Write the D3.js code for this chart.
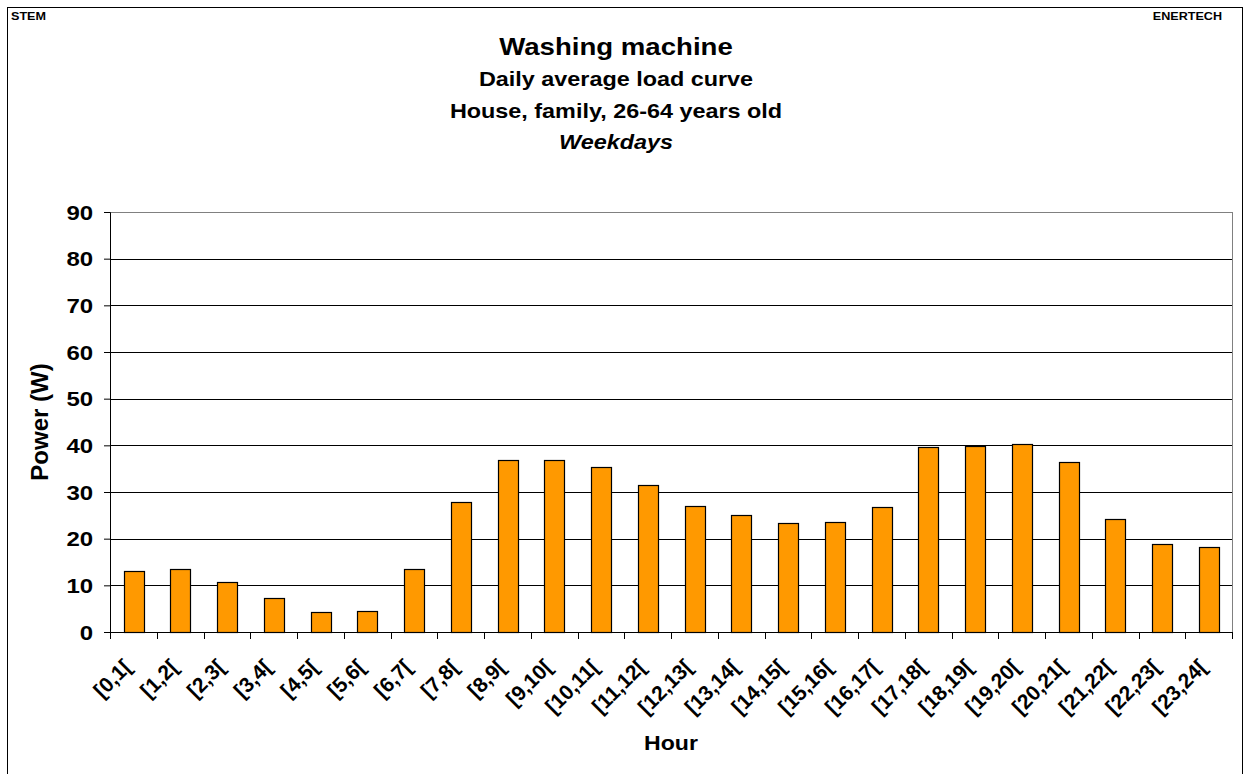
<!DOCTYPE html>
<html>
<head>
<meta charset="utf-8">
<script src="https://cdn.jsdelivr.net/npm/d3@7"></script>
<style>
	body { margin: 0; background: #fff; }
	text { font-family: "Liberation Sans", Arial, sans-serif; font-weight: bold; fill: #000; }
</style>
</head>
<body>
<div id="graphic"></div>
<script>
// chart data
const hours = ['[0,1[', '[1,2[', '[2,3[', '[3,4[', '[4,5[', '[5,6[', '[6,7[', '[7,8[', '[8,9[', '[9,10[', '[10,11[', '[11,12[',
	'[12,13[', '[13,14[', '[14,15[', '[15,16[', '[16,17[', '[17,18[', '[18,19[', '[19,20[', '[20,21[', '[21,22[', '[22,23[', '[23,24['];
const power = [13.0, 13.6, 10.7, 7.2, 4.2, 4.6, 13.4, 27.8, 36.9, 36.9, 35.4, 31.5,
	26.9, 25.0, 23.3, 23.6, 26.7, 39.6, 39.9, 40.2, 36.5, 24.3, 18.9, 18.3];
const yTicks = [0, 10, 20, 30, 40, 50, 60, 70, 80, 90];
const titleLines = ['Daily average load curve', 'House, family, 26-64 years old'];

const width = 1247, height = 774;
const margin = { top: 212, right: 15, bottom: 142, left: 110 };
const chart_width = width - margin.left - margin.right;
const chart_height = height - margin.top - margin.bottom;
const sx = 1.2; // the source text is a little wider than Arial

const svg = d3.select('#graphic')
	.append('svg')
	.attr('width', width)
	.attr('height', height);

// outer frame
svg.append('rect')
	.attr('x', 7.5).attr('y', 7.5)
	.attr('width', 1235).attr('height', 780)
	.attr('fill', 'none')
	.attr('stroke', '#000');

function label(x, y, txt, size, anchor, stretch) {
	return svg.append('text')
		.attr('transform', 'translate(' + x + ',' + y + ') scale(' + stretch + ',1)')
		.attr('text-anchor', anchor)
		.style('font-size', size + 'px')
		.text(txt);
}

label(11, 20, 'STEM', 10.5, 'start', sx);
label(1222, 20, 'ENERTECH', 10.5, 'end', sx);

// titles
const titleX = 616;
label(titleX, 55, 'Washing machine', 23, 'middle', sx);
titleLines.forEach((d, i) => label(titleX, 86 + i * 32, d, 19.5, 'middle', sx));
label(titleX, 149, 'Weekdays', 19.5, 'middle', sx).style('font-style', 'italic');

const g = svg.append('g').attr('transform', 'translate(' + margin.left + ',' + margin.top + ')');

//set up scales
const x = d3.scaleBand().domain(hours).range([0, chart_width]).paddingInner(0.58).paddingOuter(0.29);
const xEdge = d3.scaleLinear().domain([0, hours.length]).range([0, chart_width]);
const y = d3.scaleLinear().domain([0, 90]).range([chart_height, 0]);

// gridlines
g.append('g')
	.selectAll('line')
	.data(yTicks.filter((d) => d > 0))
	.join('line')
	.attr('x1', 0).attr('x2', chart_width)
	.attr('y1', (d) => Math.round(y(d)) + 0.5).attr('y2', (d) => Math.round(y(d)) + 0.5)
	.attr('stroke', (d) => d == 90 ? '#808080' : '#000');

// right border of plot
g.append('line')
	.attr('x1', chart_width + 0.5).attr('x2', chart_width + 0.5)
	.attr('y1', 0).attr('y2', chart_height)
	.attr('stroke', '#808080');

// bars
g.append('g')
	.selectAll('rect')
	.data(power)
	.join('rect')
	.attr('x', (d, i) => Math.round(x(hours[i])) + 0.5)
	.attr('y', (d) => Math.round(y(d)) + 0.5)
	.attr('width', Math.round(x.bandwidth()))
	.attr('height', (d) => Math.round(chart_height - y(d)))
	.attr('fill', '#ff9900')
	.attr('stroke', '#000')
	.attr('stroke-width', 1.2);

// y axis
const yAxis = d3.axisLeft(y).tickValues(yTicks).tickSize(6).tickPadding(8).tickFormat(d3.format('d'));
g.append('g')
	.attr('class', 'y axis')
	.call(yAxis)
	.call((s) => s.select('.domain').attr('stroke', '#000'))
	.selectAll('text')
	.style('font-size', '20px')
	.attr('dy', '0.35em')
	.attr('transform', 'scale(' + sx + ',1)');

// x axis: ticks at band edges
const xAxisG = g.append('g').attr('transform', 'translate(0,' + chart_height + ')');
xAxisG.append('line')
	.attr('x1', 0).attr('x2', chart_width)
	.attr('y1', 0.5).attr('y2', 0.5)
	.attr('stroke', '#000');
xAxisG.selectAll('line.tick')
	.data(d3.range(hours.length + 1))
	.join('line')
	.attr('class', 'tick')
	.attr('x1', (d) => Math.round(xEdge(d)) + 0.5).attr('x2', (d) => Math.round(xEdge(d)) + 0.5)
	.attr('y1', 0).attr('y2', 7)
	.attr('stroke', '#000');
xAxisG.selectAll('text')
	.data(hours)
	.join('text')
	.attr('transform', (d) => 'translate(' + (x(d) + x.bandwidth() / 2 - 11) + ',26) rotate(-45)')
	.attr('text-anchor', 'end')
	.attr('dy', '0.7em')
	.style('font-size', '21px')
	.text((d) => d);

// axis titles
svg.append('text')
	.attr('transform', 'translate(48,' + (margin.top + chart_height / 2) + ') rotate(-90)')
	.attr('text-anchor', 'middle')
	.style('font-size', '24px')
	.text('Power (W)');
label(margin.left + chart_width / 2, 750, 'Hour', 21, 'middle', 1.1);
</script>
</body>
</html>
